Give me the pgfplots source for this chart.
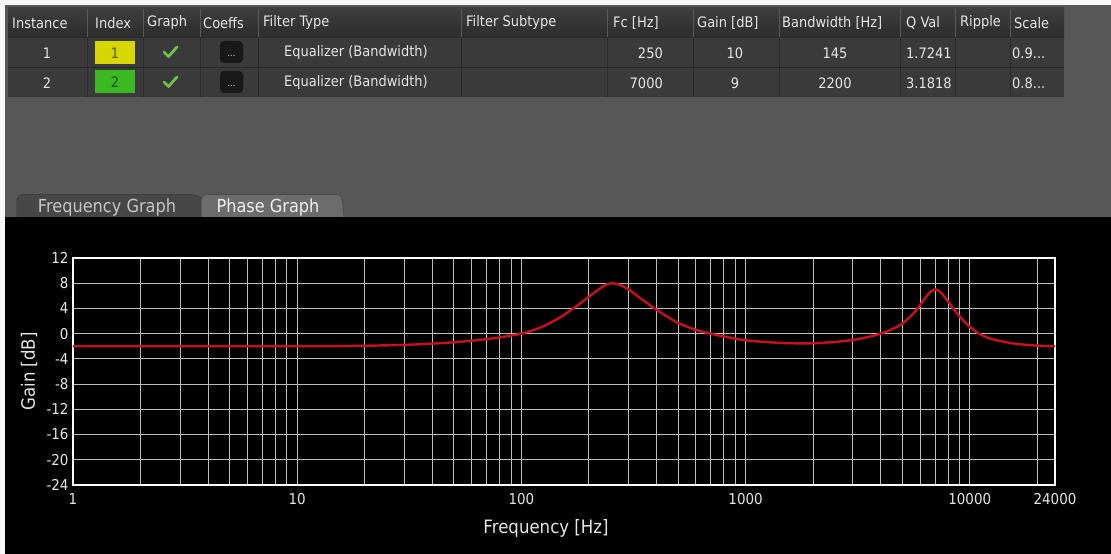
\documentclass[border=0pt]{standalone}
\usepackage{pgfplots}
\pgfplotsset{compat=1.18}
\usepackage{fontspec}
\setmainfont{DejaVu Sans}[FakeStretch=0.9]
\definecolor{uibg}{HTML}{575757}
\definecolor{hdrtop}{HTML}{3E3E3E}
\definecolor{hdrbot}{HTML}{2C2C2C}
\definecolor{rowbg}{HTML}{3A3A3A}
\definecolor{sep}{HTML}{2A2A2A}
\definecolor{hsep}{HTML}{5A5A5A}
\definecolor{txt}{HTML}{E6E6E6}
\definecolor{idxy}{HTML}{D6D600}
\definecolor{idxg}{HTML}{3CB820}
\definecolor{chk}{HTML}{6CC24A}
\definecolor{tabsel}{HTML}{474747}
\definecolor{tabun}{HTML}{6C6C6C}
\definecolor{gridc}{HTML}{BEBEBE}
\definecolor{curve}{HTML}{C8101E}
\newcommand{\tf}{\fontsize{14.5}{16}\selectfont}
\newcommand{\threedots}{...}
\begin{document}
\begin{tikzpicture}
\path[use as bounding box] (0,0) rectangle (1111bp,554bp);
\begin{scope}[shift={(0bp,554bp)},x=1bp,y=-1bp]
\fill[white!94!gray] (0,0) rectangle (1111,554);
\fill[uibg] (5,5) rectangle (1111,217);
\fill[black] (5,217) rectangle (1111,554);
% table
\shade[top color=hdrtop,bottom color=hdrbot] (8,8) rectangle (1064,38);
\fill[rowbg] (8,38) rectangle (1064,97);
\draw[sep,line width=1] (8,67.5) -- (1064,67.5);
\draw[sep,line width=1] (8,38) -- (1064,38);
\foreach \c in {87,143,200,258,461,607,693,779,900,955,1010}{
  \draw[hsep,line width=0.8] (\c,9) -- (\c,37);
  \draw[sep,line width=0.8] (\c,38) -- (\c,97);
}
\tikzset{tt/.style={inner sep=0,text=txt,font=\tf}}
\node[tt,anchor=west] at (12,23) {Instance};
\node[tt,anchor=west] at (95,23) {Index};
\node[tt,anchor=west] at (147,23) {Graph};
\node[tt,anchor=west] at (203,23) {Coeffs};
\node[tt,anchor=west] at (263,23) {Filter Type};
\node[tt,anchor=west] at (466,23) {Filter Subtype};
\node[tt,anchor=west] at (613,23) {Fc [Hz]};
\node[tt,anchor=west] at (697,23) {Gain [dB]};
\node[tt,anchor=west] at (782,23) {Bandwidth [Hz]};
\node[tt,anchor=west] at (906,23) {Q Val};
\node[tt,anchor=west] at (960,23) {Ripple};
\node[tt,anchor=west] at (1014,23) {Scale};
% rows
\foreach \y/\i/\fc/\g/\bw/\q/\s in {53/1/250/10/145/1.7241/0.9,83/2/7000/9/2200/3.1818/0.8}{
  \node[tt] at (47,\y) {\i};
  \draw[chk,line width=2.8,line cap=round,line join=round] (164,\y-1) -- (168.5,\y+3.5) -- (177,\y-6);
  \fill[black!90] (220,\y-12) [rounded corners=4] rectangle (243,\y+10);
  \node[inner sep=0,text=txt,font=\fontsize{9}{9}\selectfont] at (231.5,\y+3) {\threedots};
  \node[tt,anchor=west] at (284,\y) {Equalizer (Bandwidth)};
  \node[tt,anchor=east] at (663,\y) {\fc};
  \node[tt] at (735,\y) {\g};
  \node[tt] at (835,\y) {\bw};
  \node[tt,anchor=west] at (906,\y) {\q};
  \node[tt,anchor=west] at (1012,\y) {\s\threedots};
}
\fill[idxy] (95,41) rectangle (135,64);
\node[inner sep=0,font=\tf,text=black!60!idxy] at (115,53) {1};
\fill[idxg] (95,70) rectangle (135,93);
\node[inner sep=0,font=\tf,text=black!55!idxg] at (115,82.5) {2};
% tabs
\filldraw[fill=tabun,draw=black!70,line width=0.8] (200,218) -- (200,200) [rounded corners=6] -- (202,194.5) -- (342,194.5) -- (344,218);
\filldraw[fill=tabsel,draw=black!75,line width=0.8] (17,218) [rounded corners=6] -- (17,194.5) -- (196,194.5) [sharp corners] -- (201,198) -- (201,218);
\node[inner sep=0,font=\fontsize{18}{18}\selectfont,text=black!22] at (107,207.5) {Frequency Graph};
\node[inner sep=0,font=\fontsize{18}{18}\selectfont,text=black!6] at (268,207.5) {Phase Graph};
\fill[black] (5,217) rectangle (1111,222);
\end{scope}
\begin{axis}[
  at={(73bp,69bp)}, anchor=south west,
  scale only axis, width=982bp, height=227bp,
  xmode=log, xmin=1, xmax=24000, ymin=-24, ymax=12,
  ytick={-24,-20,...,12},
  xtick={1,10,100,1000,10000,24000},
  xticklabels={1,10,100,1000,10000,24000},
  minor xtick={2,3,4,5,6,7,8,9,20,30,40,50,60,70,80,90,200,300,400,500,600,700,800,900,2000,3000,4000,5000,6000,7000,8000,9000,20000},
  grid=both,
  major grid style={gridc,line width=0.9bp},
  minor grid style={gridc,line width=0.9bp},
  axis line style={white,line width=2bp},
  major tick length=0pt, minor tick length=0pt,
  tick style={draw=none},
  /pgf/number format/assume math mode=true,
  ticklabel style={font=\fontsize{15}{15}\selectfont,text=txt},
  xticklabel style={yshift=-5bp},
  yticklabel style={xshift=-1bp},
  xlabel={Frequency [Hz]}, ylabel={Gain [dB]},
  label style={font=\fontsize{18.5}{18.5}\selectfont,text=txt},
  xlabel style={at={(axis description cs:0.4817,-0.192)},anchor=center},
  ylabel style={at={(axis description cs:-0.0448,0.5)},anchor=center},
  axis background/.style={fill=black},
]
\addplot[curve,line width=2.4bp,smooth] coordinates {
(1,-2.0) (2,-2.0) (5,-2.0) (10,-2.0) (15,-1.97) (20,-1.92) (30,-1.78) (40,-1.58) (50,-1.36) (60,-1.12) (70,-0.86) (80,-0.6) (90,-0.3) (100,0.0) (115,0.65) (130,1.45) (150,2.65) (165,3.65) (180,4.6) (200,5.85) (225,7.2) (240,7.8) (255,8.0) (275,7.75) (300,7.05) (340,5.6) (400,3.8) (450,2.65) (500,1.7) (600,0.6) (700,0.0) (800,-0.45) (1000,-1.05) (1300,-1.38) (1600,-1.52) (2000,-1.52) (2500,-1.32) (3000,-1.0) (3500,-0.55) (4000,0.0) (4500,0.7) (5000,1.6) (5500,2.9) (6000,4.5) (6400,5.9) (6700,6.7) (7000,7.0) (7300,6.75) (7700,5.9) (8200,4.6) (8700,3.4) (9300,2.2) (10000,1.1) (11000,0.0) (12500,-0.85) (15000,-1.45) (17000,-1.7) (20000,-1.9) (24000,-2.0)
};
\end{axis}
\end{tikzpicture}
\end{document}
